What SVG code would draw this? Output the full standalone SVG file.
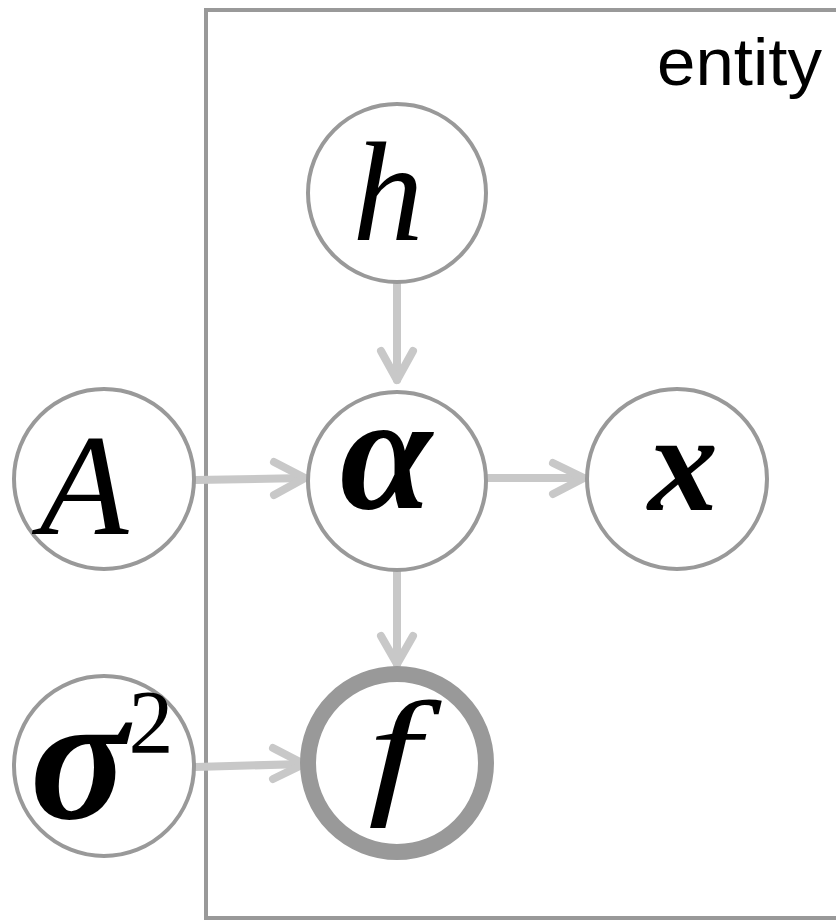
<svg xmlns="http://www.w3.org/2000/svg" width="836" height="921" viewBox="0 0 836 921">
<defs>
<style>
.node{fill:#fff;stroke:#999;stroke-width:4}
.obs{fill:#fff;stroke:#999;stroke-width:16}
.edge{fill:none;stroke:#c8c8c8;stroke-width:8;stroke-linecap:round;stroke-linejoin:round}
.lbl{font-family:"Liberation Serif","Times New Roman",serif;font-style:italic;fill:#000}
.b{font-weight:bold}
.plate{fill:none;stroke:#999;stroke-width:4}
</style>
</defs>
<rect class="plate" x="206" y="10" width="700" height="908"/>
<text x="822" y="85" text-anchor="end" font-family="Liberation Sans, Arial, sans-serif" font-size="66" textLength="165" lengthAdjust="spacingAndGlyphs" fill="#000">entity</text>
<g id="connectors">
<path class="edge" d="M397 284 L397 380"/><path class="edge" d="M381 351 L397 380 L413 351"/>
<path class="edge" d="M195 480 L305 478"/><path class="edge" d="M274 462 L305 478 L274 495"/>
<path class="edge" d="M488 478 L584 478"/><path class="edge" d="M553 463 L584 478 L553 494"/>
<path class="edge" d="M397 571 L397 664"/><path class="edge" d="M381 636 L397 664 L413 636"/>
<path class="edge" d="M195 767 L304 764"/><path class="edge" d="M273 748 L304 764 L273 779"/>
</g>
<g id="h"><circle class="node" cx="397" cy="193" r="89"/><text class="lbl" x="388" y="240" font-size="142" text-anchor="middle">h</text></g>
<g id="alpha"><circle class="node" cx="397" cy="481" r="89"/><text class="lbl b" x="386" y="508" font-size="166" text-anchor="middle">α</text></g>
<g id="x"><circle class="node" cx="677" cy="479" r="90"/><text class="lbl b" x="683" y="510" font-size="140" text-anchor="middle">x</text></g>
<g id="A"><circle class="node" cx="104" cy="479" r="90"/><text class="lbl" x="84" y="534" font-size="145" text-anchor="middle">A</text></g>
<g id="sigma2"><circle class="node" cx="104" cy="766" r="90"/><text class="lbl b" x="79" y="818" font-size="182" text-anchor="middle">σ</text><text x="151" y="753" font-family="Liberation Serif, Times New Roman, serif" font-size="90" text-anchor="middle" fill="#000">2</text></g>
<g id="f"><circle class="obs" cx="397" cy="763" r="89"/><text class="lbl" x="0" y="798" font-size="139" text-anchor="middle" transform="translate(394 0) scale(1.35 1)">f</text></g>
</svg>
